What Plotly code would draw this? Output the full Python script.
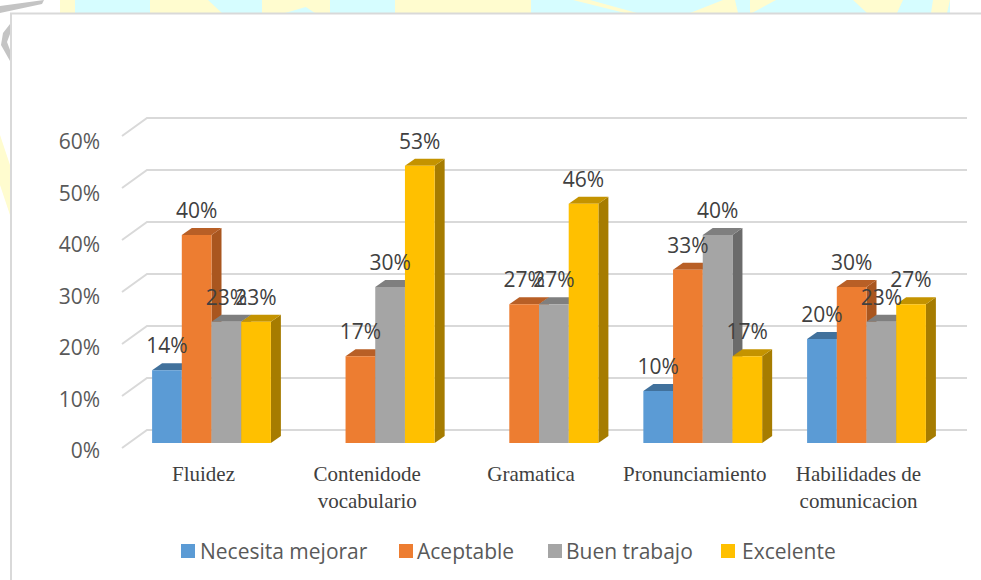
import plotly.graph_objects as go

categories = ['Fluidez', 'Contenidode<br>vocabulario', 'Gramatica', 'Pronunciamiento', 'Habilidades de<br>comunicacion']
necesita = [14, None, None, 10, 20]
aceptable = [40, 16.7, 26.7, 33.3, 30]
buen_trabajo = [23.3, 30, 26.7, 40, 23.3]
excelente = [23.3, 53.3, 46, 16.7, 26.7]
ticks = [0, 10, 20, 30, 40, 50, 60]

series = [
    ('Necesita mejorar', necesita, '#5B9BD5', '#41719C', '#41719C'),
    ('Aceptable', aceptable, '#ED7D31', '#B85F26', '#A9561F'),
    ('Buen trabajo', buen_trabajo, '#A5A5A5', '#7F7F7F', '#6B6B6B'),
    ('Excelente', excelente, '#FFC000', '#C49300', '#A67C00'),
]
legend_key_x = [181, 399, 548, 721]
legend_text_x = [198, 415, 564, 740]

W, H = 981, 580
# pixel scale of the front plane
X0, X_STEP = 211.5, 163.75
Y0, Y_STEP = 443, 5.2
PLOT_L, PLOT_T, PLOT_B = 101, 60, 459
BAR_W = 29.7 / X_STEP
DX, DY = 10 / X_STEP, 7 / Y_STEP  # bar depth
GX0, GX1, GX2 = (122 - X0) / X_STEP, (147 - X0) / X_STEP, (967 - X0) / X_STEP


def px(x):
    return x / W


def py(y):
    return 1 - y / H


def poly(points, color):
    path = 'M' + ' L'.join(f'{px(x)},{py(y)}' for x, y in points) + ' Z'
    return dict(type='path', xref='paper', yref='paper', path=path, fillcolor=color,
                line_width=0, layer='below')


def data_poly(points, color):
    path = 'M' + ' L'.join(f'{x},{y}' for x, y in points) + ' Z'
    return dict(type='path', xref='x', yref='y', path=path, fillcolor=color,
                line_width=0, layer='below')


shapes = []

# watermark behind the chart
CYAN, YELLOW = '#D6FDFF', '#FFFCCF'
shapes.append(poly([(75, 0), (950, 0), (950, 13), (75, 13)], CYAN))
for a, b, c, d in [(60, 75, 60, 75), (150, 208, 150, 222), (262, 330, 262, 285), (295, 330, 315, 330),
                   (395, 490, 395, 490), (490, 531, 490, 531), (573, 590, 625, 637), (723, 735, 690, 738),
                   (750, 776, 750, 752), (853, 903, 867, 897), (933, 950, 931, 947)]:
    shapes.append(poly([(a, 0), (b, 0), (d, 13), (c, 13)], YELLOW))
shapes.append(poly([(0, 6), (44, 0), (42, 4), (0, 13)], '#C4C4C4'))
shapes.append(poly([(10, 24), (3, 33), (1, 45), (10, 61), (10, 50), (7, 42), (10, 34)], '#C4C4C4'))
shapes.append(poly([(0, 135), (10, 165), (10, 215), (0, 185)], YELLOW))

# panel border
for x0, y0, x1, y1 in [(10, 13.5, W, 13.5), (11, 13, 11, H)]:
    shapes.append(dict(type='line', xref='paper', yref='paper', x0=px(x0), y0=py(y0), x1=px(x1), y1=py(y1),
                       line=dict(color='#D9D9D9', width=2), layer='below'))

# back wall gridlines with the slanted side wall
for t in ticks:
    back = t + 13 / Y_STEP
    left = t - 5 / Y_STEP
    path = f'M{GX0},{left} L{GX1},{back} L{GX2},{back}'
    shapes.append(dict(type='path', xref='x', yref='y', path=path,
                       line=dict(color='#D9D9D9', width=2), layer='below'))

# side and top faces, drawn under the front bars
for i in range(len(categories)):
    for j, (name, values, front, top, side) in enumerate(series):
        v = values[i]
        if v is None:
            continue
        left = i + (j - 2) * BAR_W
        right = left + BAR_W
        shapes.append(data_poly([(right, 0), (right + DX, DY), (right + DX, v + DY), (right, v)], side))
        shapes.append(data_poly([(left, v), (left + DX, v + DY), (right + DX, v + DY), (right, v)], top))

fig = go.Figure()
for j, (name, values, front, top, side) in enumerate(series):
    fig.add_trace(go.Bar(x=list(range(len(categories))), y=values, name=name, marker_color=front,
                         marker_line_width=0, width=BAR_W, offset=(j - 2) * BAR_W, hoverinfo='skip'))

# data labels sit above every bar, so they go on top in a text trace
LABEL_GAP = 22 / Y_STEP
for j, (name, values, front, top, side) in enumerate(series):
    fig.add_trace(go.Scatter(
        x=[i + (j - 1.5) * BAR_W for i, v in enumerate(values) if v is not None],
        y=[v + LABEL_GAP for v in values if v is not None],
        text=[f'{round(v)}%' for v in values if v is not None],
        mode='text', textposition='middle center', showlegend=False, hoverinfo='skip',
        textfont=dict(family='Open Sans', size=21, color='#404040')))

# invisible trace that carries the shifted axis with the percent labels
fig.add_trace(go.Scatter(x=[0], y=[0], yaxis='y2', mode='none', showlegend=False, hoverinfo='skip'))

# legend keys sit closer to their text than plotly's own legend allows
annotations = []
for key_x, text_x, (name, values, front, top, side) in zip(legend_key_x, legend_text_x, series):
    shapes.append(poly([(key_x, 544), (key_x + 14, 544), (key_x + 14, 558), (key_x, 558)], front))
    annotations.append(dict(xref='paper', yref='paper', x=px(text_x), y=py(551), text=name,
                            showarrow=False, xanchor='left', yanchor='middle',
                            font=dict(family='Open Sans', size=21, color='#595959')))

x_range = [(PLOT_L - X0) / X_STEP, (W - X0) / X_STEP]
y_range = [(Y0 - PLOT_B) / Y_STEP, (Y0 - PLOT_T) / Y_STEP]
# tick labels run on their own slightly lower and tighter scale
TICK_Y0, TICK_STEP = 451, 5.15

fig.update_layout(
    width=W, height=H, autosize=False,
    margin=dict(l=0, r=0, t=0, b=0, autoexpand=False),
    paper_bgcolor='white', plot_bgcolor='rgba(0,0,0,0)',
    barmode='overlay', shapes=shapes, annotations=annotations,
    xaxis=dict(domain=[PLOT_L / W, 1], range=x_range, tickmode='array',
               tickvals=[i - 8 / X_STEP for i in range(len(categories))], ticktext=categories,
               showgrid=False, zeroline=False, showline=False, ticks='',
               tickfont=dict(family='Liberation Serif', size=21, color='#404040')),
    yaxis=dict(domain=[1 - PLOT_B / H, 1 - PLOT_T / H], range=y_range, visible=False),
    yaxis2=dict(overlaying='y', side='left', anchor='x',
                range=[(TICK_Y0 - PLOT_B) / TICK_STEP, (TICK_Y0 - PLOT_T) / TICK_STEP],
                tickmode='array', tickvals=ticks, ticktext=[f'{t}%' for t in ticks],
                showgrid=False, zeroline=False, showline=False, ticks='',
                tickfont=dict(family='Open Sans', size=21, color='#595959')),
    showlegend=False,
)

fig.write_html('out.html', config={'displayModeBar': False}, post_script="document.body.style.margin='0';")
